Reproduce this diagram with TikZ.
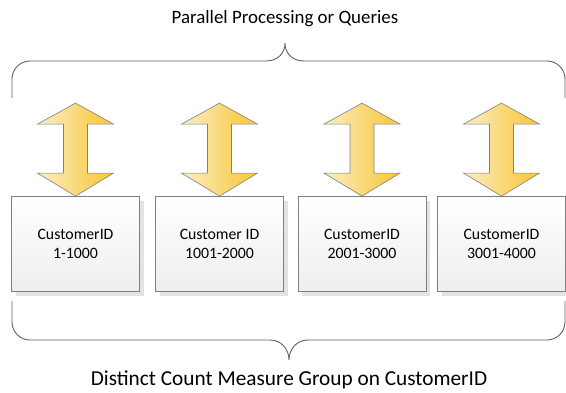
\documentclass[tikz,border=0pt]{standalone}
\usepackage{fontspec}
\setmainfont{Carlito}
\usetikzlibrary{shadows}
\definecolor{edge}{HTML}{7F7F7F}
\definecolor{brace}{HTML}{5F5F5F}
\definecolor{goldA}{HTML}{F9EDC6}
\definecolor{goldB}{HTML}{F9C630}
\definecolor{boxtop}{HTML}{FFFFFF}
\definecolor{boxbot}{HTML}{EEEEEE}
\definecolor{shade}{HTML}{E3E3E3}
\tikzset{
  part/.style={draw=edge, line width=0.8pt, minimum width=128pt, minimum height=95pt,
    top color=boxtop, bottom color=boxbot, align=center, font=\fontsize{15.8}{19}\selectfont,
    inner sep=0pt, drop shadow={shadow xshift=4pt, shadow yshift=-4pt, fill=shade, opacity=1}},
  bracepath/.style={draw=brace, line width=0.9pt},
  arrowbody/.style={draw=edge, line width=0.6pt, left color=goldA, right color=goldB},
  caption/.style={inner sep=0pt}
}
\begin{document}
\begin{tikzpicture}[x=1pt, y=-1pt]
\useasboundingbox (0,0) rectangle (566,392);
\node[part] (b1) at (75.5,244) {CustomerID\\1-1000};
\node[part] (b2) at (219.5,244) {Customer ID\\1001-2000};
\node[part] (b3) at (362,244) {CustomerID\\2001-3000};
\node[part] (b4) at (501.5,244) {CustomerID\\3001-4000};
\foreach \b in {b1,b2,b3,b4}{
  \path[arrowbody] (\b.north) -- ++(-38,-23) -- ++(26,0) -- ++(0,-49) -- ++(-26,0)
    -- ++(38,-21) -- ++(38,21) -- ++(-26,0) -- ++(0,49) -- ++(26,0) -- cycle;
}
\node[caption, font=\fontsize{18.9}{22}\selectfont] (top) at (285,19) {Parallel Processing or Queries};
\node[caption, font=\fontsize{21.3}{24}\selectfont] (bot) at (289,380) {Distinct Count Measure Group on CustomerID};
\coordinate (ttip) at (285,43);
\coordinate (btip) at (289,360);
\draw[bracepath] (12,98) -- (12,79) arc[start angle=180, end angle=270, radius=18]
  -- (266,61) .. controls (278,61) and (285,53) .. (ttip)
  .. controls (285,53) and (292,61) .. (304,61) -- (547,61)
  arc[start angle=270, end angle=360, radius=18] -- (565,98);
\draw[bracepath] (12,301) -- (12,322) arc[start angle=180, end angle=90, radius=18]
  -- (270,340) .. controls (282,340) and (289,350) .. (btip)
  .. controls (289,350) and (296,340) .. (308,340) -- (547,340)
  arc[start angle=90, end angle=0, radius=18] -- (565,301);
\end{tikzpicture}
\end{document}
